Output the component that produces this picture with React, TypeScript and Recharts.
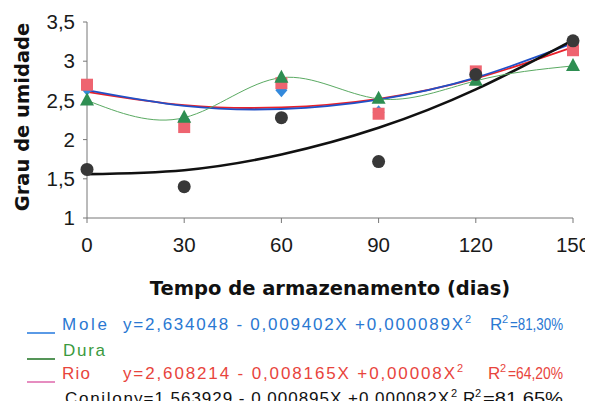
import { ComposedChart, Line, XAxis, YAxis } from "recharts";

// storage time (days) and moisture readings
const days = [0, 30, 60, 90, 120, 150];
const moleObs = [2.65, 2.25, 2.63, 2.35, 2.85, 3.22];
const duraObs = [2.5, 2.28, 2.79, 2.52, 2.75, 2.94];
const rioObs = [2.7, 2.16, 2.72, 2.33, 2.87, 3.14];
const conilonObs = [1.62, 1.4, 2.28, 1.72, 2.83, 3.26];

// fitted curves as drawn in the figure
const moleFit = [2.63, 2.43, 2.39, 2.51, 2.79, 3.23];
const rioFit = [2.61, 2.44, 2.41, 2.52, 2.78, 3.18];
const conilonFit = [1.56, 1.61, 1.81, 2.15, 2.64, 3.27];

const yTicks = [1, 1.5, 2, 2.5, 3, 3.5];
const xTicks = [0, 30, 60, 90, 120, 150];

const legendRows = [
  { name: "Mole", eq: "y=2,634048 - 0,009402X +0,000089X", r2: "=81,30%", color: "#2a78d2", line: "#3080e0",
    nameX: [62, 107], eqX: [123, 463], r2X: 490, y: 330 },
  { name: "Dura", eq: "", r2: "", color: "#3a9a3e", line: "#2a7a2e", nameX: [63, 105], eqX: [0, 0], r2X: 0, y: 356 },
  { name: "Rio", eq: "y=2,608214 - 0,008165X +0,00008X", r2: "=64,20%", color: "#e8443c", line: "#e070b0",
    nameX: [62, 90], eqX: [123, 455], r2X: 488, y: 379 },
  { name: "Conilon", eq: "y=1,563929 - 0,000895X +0,000082X", r2: "=81,65%", color: "#111", line: "#333",
    nameX: [65, 133], eqX: [134, 449], r2X: 463, y: 404 },
];

const data = days.map((d, i) => ({
  day: d,
  mole: moleObs[i],
  dura: duraObs[i],
  rio: rioObs[i],
  conilon: conilonObs[i],
  moleFit: moleFit[i],
  rioFit: rioFit[i],
  conilonFit: conilonFit[i],
}));

const Diamond = (p: any) => {
  const { cx, cy } = p;
  if (cx == null || cy == null) return null;
  return <polygon points={`${cx},${cy - 7} ${cx + 6},${cy} ${cx},${cy + 7} ${cx - 6},${cy}`} fill="#3389dc" />;
};
const Square = (p: any) => {
  const { cx, cy } = p;
  if (cx == null || cy == null) return null;
  return <rect x={cx - 6} y={cy - 6} width={12} height={12} fill="#ee6470" />;
};
const Triangle = (p: any) => {
  const { cx, cy } = p;
  if (cx == null || cy == null) return null;
  return <polygon points={`${cx},${cy - 8} ${cx + 7},${cy + 5} ${cx - 7},${cy + 5}`} fill="#2e8e52" />;
};
const Dot = (p: any) => {
  const { cx, cy } = p;
  if (cx == null || cy == null) return null;
  return <circle cx={cx} cy={cy} r={6.5} fill="#383838" />;
};

const fmt = (v: number) => String(v).replace(".", ",");
const titleFont = "'DejaVu Sans', Verdana, sans-serif";

export default function App() {
  return (
    <div style={{ width: 593, height: 409, position: "relative", background: "#fff", fontFamily: "'Liberation Sans', Arial, sans-serif", margin: -8 }}>
      <ComposedChart width={593} height={300} data={data} margin={{ top: 22, right: 20, bottom: 0, left: 0 }}>
        <XAxis
          dataKey="day"
          type="number"
          domain={[0, 150]}
          ticks={xTicks}
          tick={{ fill: "#1a1a1a", fontSize: 20.5 }}
          tickSize={5}
          tickMargin={14}
          stroke="#777"
          height={82}
          label={{
            content: () => (
              <text x={330} y={295} textAnchor="middle" fontFamily={titleFont} fontSize={19.5} fontWeight={700} fill="#111">
                Tempo de armazenamento (dias)
              </text>
            ),
          }}
        />
        <YAxis
          type="number"
          domain={[1, 3.5]}
          ticks={yTicks}
          tickFormatter={fmt}
          tick={{ fill: "#1a1a1a", fontSize: 20.5 }}
          tickSize={4}
          tickMargin={8}
          stroke="#777"
          width={87}
          label={{
            content: () => (
              <text x={29} y={117} transform="rotate(-90 29 117)" textAnchor="middle" fontFamily={titleFont} fontSize={19.5} fontWeight={700} fill="#111">
                Grau de umidade
              </text>
            ),
          }}
        />
        <Line dataKey="rioFit" type="natural" stroke="#e8202a" strokeWidth={1.8} dot={false} isAnimationActive={false} />
        <Line dataKey="moleFit" type="natural" stroke="#2050c8" strokeWidth={1.8} dot={false} isAnimationActive={false} />
        <Line dataKey="conilonFit" type="natural" stroke="#111" strokeWidth={2.6} dot={false} isAnimationActive={false} />
        <Line dataKey="mole" stroke="none" dot={<Diamond />} isAnimationActive={false} />
        <Line dataKey="rio" stroke="none" dot={<Square />} isAnimationActive={false} />
        <Line dataKey="dura" type="natural" stroke="#5aaa62" strokeWidth={1} dot={<Triangle />} isAnimationActive={false} />
        <Line dataKey="conilon" stroke="none" dot={<Dot />} isAnimationActive={false} />
      </ComposedChart>
      <svg width={593} height={409} style={{ position: "absolute", left: 0, top: 0, pointerEvents: "none" }}>
        {legendRows.map((r) => (
          <g key={r.name} fontSize={17} fill={r.color}>
            <line x1={27} x2={55} y1={r.y + 3} y2={r.y + 3} stroke={r.line} strokeWidth={1.6} />
            <text x={r.nameX[0]} y={r.y} textLength={r.nameX[1] - r.nameX[0]} lengthAdjust="spacing">
              {r.name}
            </text>
            {r.eq && (
              <>
                <text x={r.eqX[0]} y={r.y} textLength={r.eqX[1] - r.eqX[0]} lengthAdjust="spacing">
                  {r.eq}
                </text>
                <text x={r.eqX[1] + 2} y={r.y - 7} fontSize={11}>2</text>
                <text x={r.r2X} y={r.y}>R</text>
                <text x={r.r2X + 12} y={r.y - 7} fontSize={11}>2</text>
                <text x={r.r2X + 20} y={r.y} textLength={563 - r.r2X - 20} lengthAdjust="spacingAndGlyphs">
                  {r.r2}
                </text>
              </>
            )}
          </g>
        ))}
      </svg>
    </div>
  );
}
